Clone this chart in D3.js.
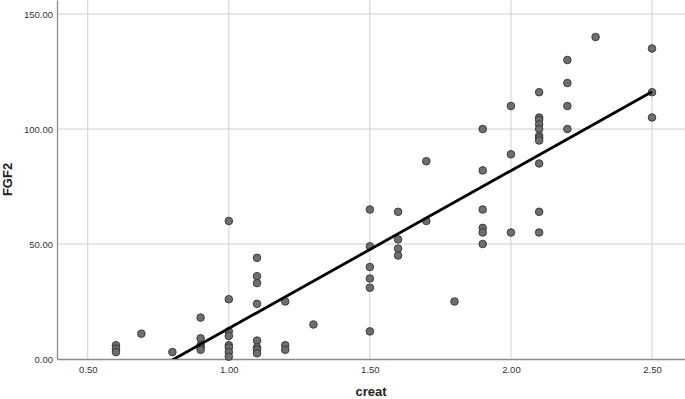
<!DOCTYPE html>
<html>
<head>
<meta charset="utf-8">
<script src="https://cdn.jsdelivr.net/npm/d3@7"></script>
<style>
  body { margin: 0; background: #fff; }
  svg { display: block; }
</style>
</head>
<body>
<div id="chart"></div>
<script>
// creat / FGF2 pairs
const creat = [
  0.6, 0.6, 0.6,
  0.69,
  0.8,
  0.9, 0.9, 0.9, 0.9, 0.9,
  1.0, 1.0, 1.0, 1.0, 1.0, 1.0, 1.0, 1.0,
  1.1, 1.1, 1.1, 1.1, 1.1, 1.1, 1.1, 1.1,
  1.2, 1.2, 1.2,
  1.3,
  1.5, 1.5, 1.5, 1.5, 1.5, 1.5,
  1.6, 1.6, 1.6, 1.6,
  1.7, 1.7,
  1.8,
  1.9, 1.9, 1.9, 1.9, 1.9, 1.9,
  2.0, 2.0, 2.0,
  2.1, 2.1, 2.1, 2.1, 2.1, 2.1, 2.1, 2.1, 2.1, 2.1, 2.1,
  2.2, 2.2, 2.2, 2.2,
  2.3,
  2.5, 2.5, 2.5
];
const fgf2 = [
  6, 4.5, 3,
  11,
  3,
  18, 9, 6, 5, 4,
  60, 26, 12, 10, 6, 5, 3, 1,
  44, 36, 33, 24, 8, 5, 4, 2.5,
  25, 6, 4,
  15,
  65, 49, 40, 35, 31, 12,
  64, 52, 48, 45,
  86, 60,
  25,
  100, 82, 65, 57, 55, 50,
  110, 89, 55,
  116, 105, 104, 102, 100, 97, 96, 95, 85, 64, 55,
  130, 120, 110, 100,
  140,
  135, 116, 105
];
// fit line as drawn in the picture (FGF2 = intercept + slope * creat)
const fitIntercept = -55.3;
const fitSlope = 68.6;

const xTicks = [0.5, 1.0, 1.5, 2.0, 2.5];
const yTicks = [0, 50, 100, 150];
const xTitle = "creat";
const yTitle = "FGF2";

const W = 685, H = 399;
const margin = { top: 0, right: 0, bottom: 40, left: 57 };

const svg = d3.select("#chart").append("svg")
  .attr("width", W)
  .attr("height", H);

const x = d3.scaleLinear().domain([0.391, 2.617]).range([margin.left, W - margin.right]);
const y = d3.scaleLinear().domain([0, 156.1]).range([H - margin.bottom, margin.top]);

// grid lines
svg.append("g")
  .selectAll("line")
  .data(xTicks)
  .join("line")
  .attr("x1", d => x(d)).attr("x2", d => x(d))
  .attr("y1", y.range()[1]).attr("y2", y.range()[0])
  .attr("stroke", "#cfcfcf")
  .attr("stroke-width", 1);

svg.append("g")
  .selectAll("line")
  .data(yTicks.filter(d => d > 0))
  .join("line")
  .attr("x1", x.range()[0]).attr("x2", x.range()[1])
  .attr("y1", d => y(d)).attr("y2", d => y(d))
  .attr("stroke", "#cfcfcf")
  .attr("stroke-width", 1);

// axes
const xAxis = d3.axisBottom(x).tickValues(xTicks).tickFormat(d3.format(".2f")).tickSize(0).tickPadding(7);
const yAxis = d3.axisLeft(y).tickValues(yTicks).tickFormat(d3.format(".2f")).tickSize(0).tickPadding(4);

const gx = svg.append("g")
  .attr("transform", `translate(0,${y(0)})`)
  .call(xAxis);
const gy = svg.append("g")
  .attr("transform", `translate(${x.range()[0]},0)`)
  .call(yAxis);

[gx, gy].forEach(g => {
  g.select(".domain").attr("stroke", "#8c8c8c").attr("stroke-width", 1.3);
  g.selectAll("text")
    .attr("fill", "#333")
    .style("font-family", "Arial, 'Liberation Sans', sans-serif")
    .style("font-size", "9.5px");
});

// points
const pts = creat.map((c, i) => ({ creat: c, fgf2: fgf2[i] }));

svg.append("g")
  .selectAll("circle")
  .data(pts)
  .join("circle")
  .attr("cx", d => x(d.creat))
  .attr("cy", d => y(d.fgf2))
  .attr("r", 3.8)
  .attr("fill", "#6e6e6e")
  .attr("stroke", "#333")
  .attr("stroke-width", 0.9);

// fit line across the data range, clipped to the plot area
const [xMin, xMax] = d3.extent(pts, d => d.creat);

svg.append("clipPath").attr("id", "plot-clip")
  .append("rect")
  .attr("x", x.range()[0]).attr("y", 0)
  .attr("width", x.range()[1] - x.range()[0])
  .attr("height", y(0));

svg.append("line")
  .attr("clip-path", "url(#plot-clip)")
  .attr("x1", x(xMin)).attr("y1", y(fitIntercept + fitSlope * xMin))
  .attr("x2", x(xMax)).attr("y2", y(fitIntercept + fitSlope * xMax))
  .attr("stroke", "#000")
  .attr("stroke-width", 2.8);

// axis titles
svg.append("text")
  .attr("x", (x.range()[0] + x.range()[1]) / 2)
  .attr("y", 396)
  .attr("text-anchor", "middle")
  .style("font-family", "Arial, 'Liberation Sans', sans-serif")
  .style("font-size", "13px")
  .style("font-weight", "bold")
  .attr("fill", "#222")
  .text(xTitle);

svg.append("text")
  .attr("transform", `translate(12,${y(156.1 / 2)}) rotate(-90)`)
  .attr("text-anchor", "middle")
  .style("font-family", "Arial, 'Liberation Sans', sans-serif")
  .style("font-size", "13px")
  .style("font-weight", "bold")
  .attr("fill", "#222")
  .text(yTitle);
</script>
</body>
</html>
